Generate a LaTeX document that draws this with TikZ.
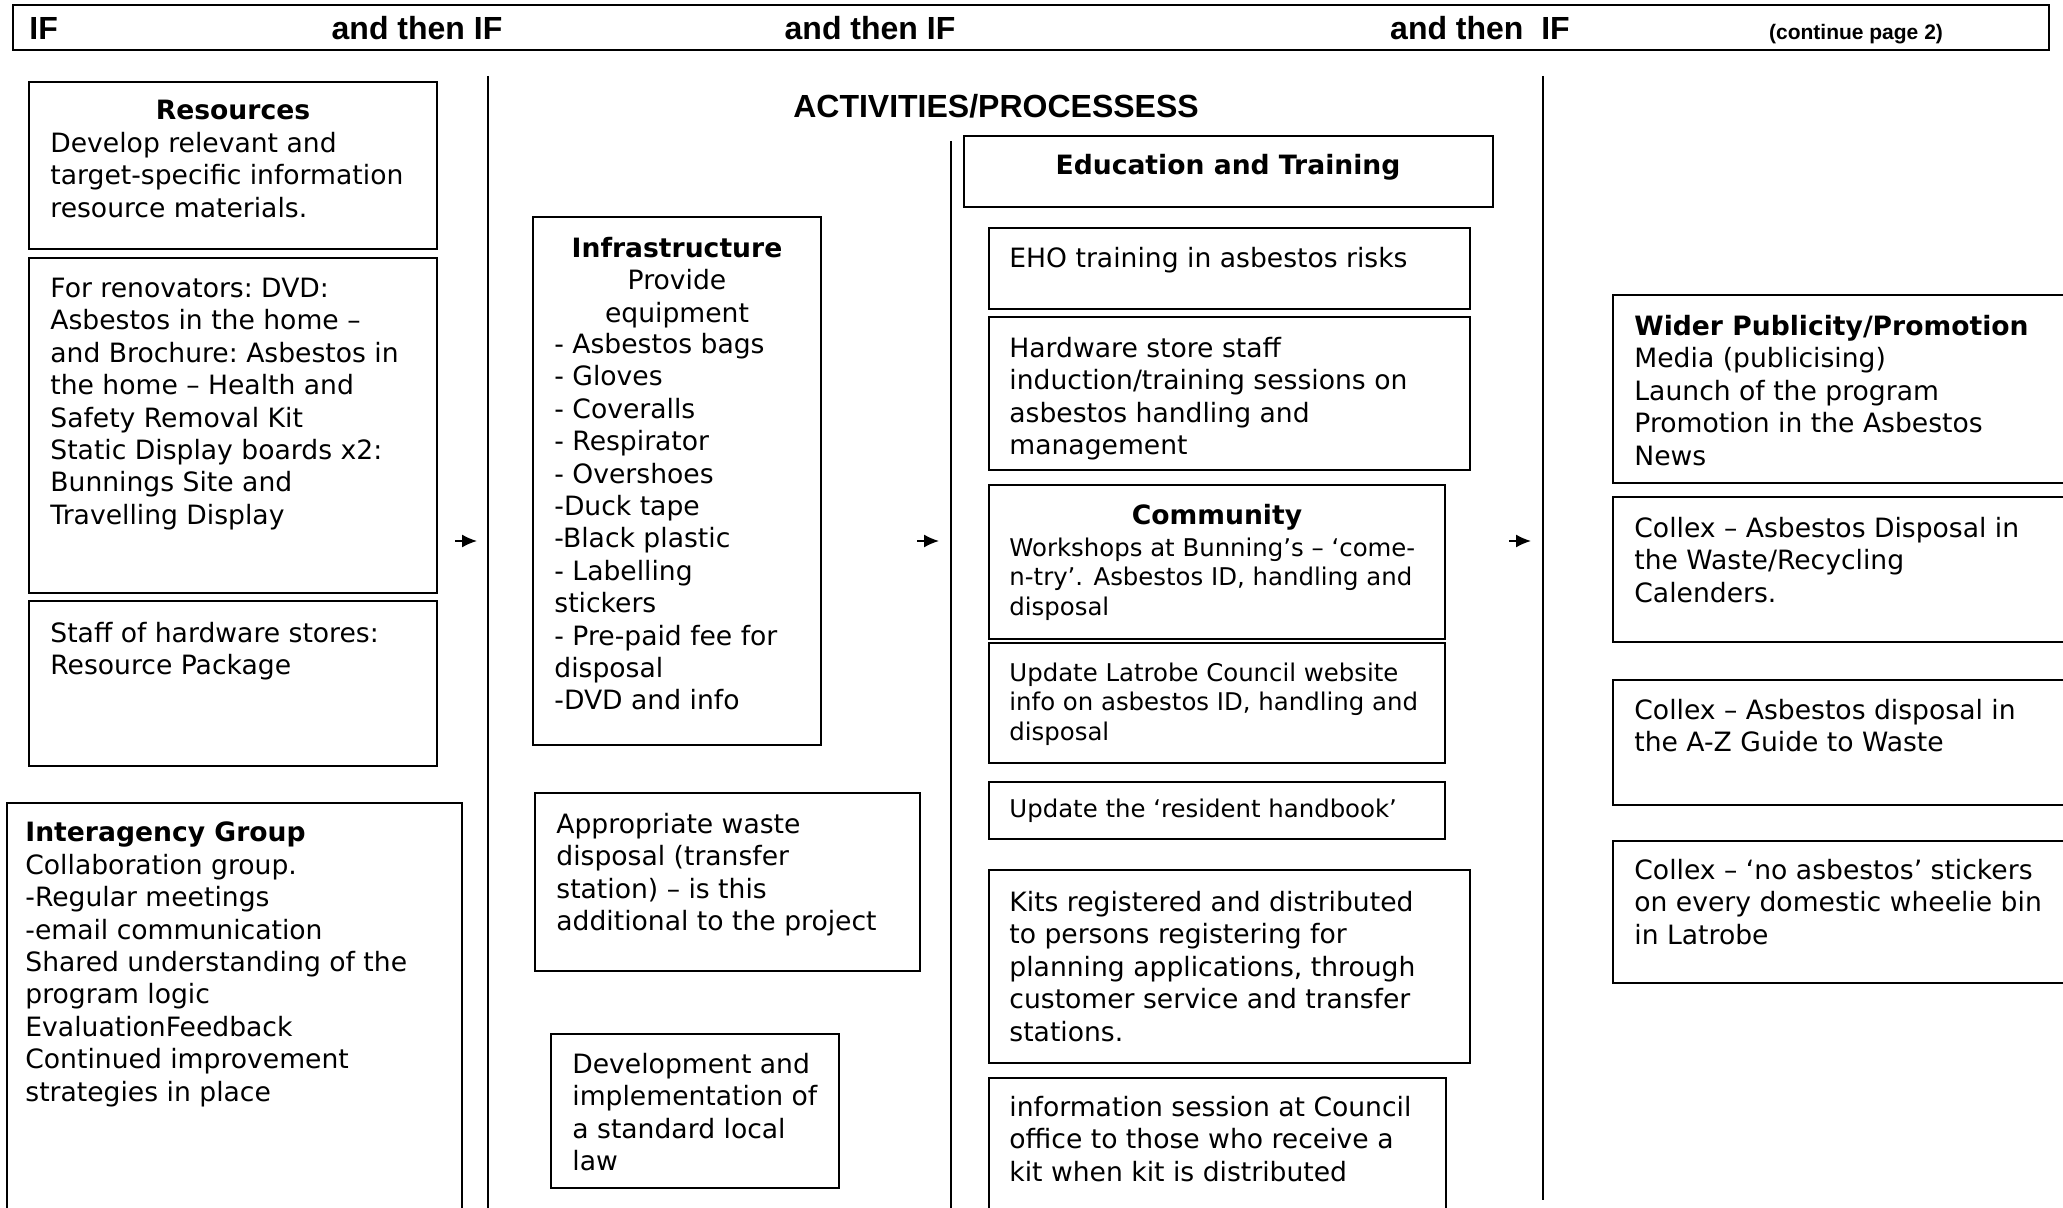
\documentclass[tikz,border=0pt]{standalone}
\usepackage{fontspec}
\usetikzlibrary{arrows.meta}
\newfontfamily\verd{DejaVu Sans}
\newfontfamily\arial{Liberation Sans}
\newcommand{\bodyfont}{\verd\fontsize{13.3}{16.2}\selectfont}
\newcommand{\smallbody}{\verd\fontsize{12.2}{14.6}\selectfont}
\newcommand{\hdfont}{\arial\bfseries\fontsize{16}{19}\selectfont}

\begin{document}
\begin{tikzpicture}[x=0.5pt, y=-0.5pt,
    boxline/.style={line width=0.75pt},
    txt/.style={anchor=north west, inner sep=0pt, align=left, font=\bodyfont, yshift=-1.4pt},
    smalltxt/.style={txt, font=\smallbody},
    ttl/.style={anchor=base, inner sep=0pt, font=\bodyfont\bfseries, yshift=-1.2pt},
    hdr/.style={anchor=base, inner sep=0pt, font=\hdfont, yshift=-0.7pt},
    flow/.style={-{Latex[length=7.5pt,width=6.5pt]}, line width=0.8pt}]
  \useasboundingbox (0,0) rectangle (2063,1208);
  \clip (0,0) rectangle (2063,1208);

  % 見出し
  \draw[line width=1.1pt] (13,5) rectangle (2049,50);
  \node[hdr, anchor=base west] (if0) at (29,38) {IF};
  \node[hdr] (if1) at (417,38) {and then IF};
  \node[hdr] (if2) at (870,38) {and then IF};
  \node[hdr] (if3) at (1480,38) {and then~~IF};
  \node[hdr, font=\arial\bfseries\fontsize{10.5}{12}\selectfont] (cont) at (1856,38) {(continue page 2)};

  \draw[line width=1pt] (488,76) -- (488,1208);
  \draw[line width=1pt] (951,141) -- (951,1208);
  \draw[line width=1pt] (1543,76) -- (1543,1200);

  % 左の列
  \draw[boxline] (29,82) rectangle (437,249);
  \node[ttl] (res-ttl) at (233,117) {Resources};
  \node[txt] (res-txt) at (50,129) {Develop relevant and\\target-specific information\\resource materials.};

  \draw[boxline] (29,258) rectangle (437,593);
  \node[txt] (reno-txt) at (50,275) {For renovators:\ DVD:\\Asbestos in the home –\\and Brochure:\ Asbestos in\\the home – Health and\\Safety Removal Kit\\Static Display boards x2:\\Bunnings Site and\\Travelling Display};

  \draw[boxline] (29,601) rectangle (437,766);
  \node[txt] (staff-txt) at (50,619) {Staff of hardware stores:\\Resource Package};

  \draw[boxline] (7,803) rectangle (462,1230);
  \node[txt] (inter-txt) at (25,819) {\textbf{Interagency Group}\\Collaboration group.\\-Regular meetings\\-email communication\\Shared understanding of the\\program logic\\EvaluationFeedback\\Continued improvement\\strategies in place};

  % 真ん中
  \node[hdr] (act) at (996,116) {ACTIVITIES/PROCESSESS};

  \draw[boxline] (533,217) rectangle (821,745);
  \node[txt, anchor=north, align=center] (infra-ttl) at (677,234) {\textbf{Infrastructure}\\Provide\\equipment};
  \node[txt] (infra-txt) at (554,330) {- Asbestos bags\\- Gloves\\- Coveralls\\- Respirator\\- Overshoes\\-Duck tape\\-Black plastic\\- Labelling\\stickers\\- Pre-paid fee for\\disposal\\-DVD and info};

  \draw[boxline] (535,793) rectangle (920,971);
  \node[txt] (waste-txt) at (556,810) {Appropriate waste\\disposal (transfer\\station) – is this\\additional to the project};

  \draw[boxline] (551,1034) rectangle (839,1188);
  \node[txt] (law-txt) at (572,1050) {Development and\\implementation of\\a standard local\\law};

  \draw[boxline] (964,136) rectangle (1493,207);
  \node[ttl] (edu-ttl) at (1228,172) {Education and Training};

  \draw[boxline] (989,228) rectangle (1470,309);
  \node[txt] (eho-txt) at (1009,244) {EHO training in asbestos risks};

  \draw[boxline] (989,317) rectangle (1470,470);
  \node[txt] (hw-txt) at (1009,334) {Hardware store staff\\induction/training sessions on\\asbestos handling and\\management};

  \draw[boxline] (989,485) rectangle (1445,639);
  \node[ttl] (com-ttl) at (1217,522) {Community};
  \node[smalltxt] (com-txt) at (1009,535) {Workshops at Bunning’s – ‘come-\\n-try’. Asbestos ID, handling and\\disposal};

  \draw[boxline] (989,643) rectangle (1445,763);
  \node[smalltxt] (web-txt) at (1009,660) {Update Latrobe Council website\\info on asbestos ID, handling and\\disposal};

  \draw[boxline] (989,782) rectangle (1445,839);
  \node[smalltxt] (book-txt) at (1009,796) {Update the ‘resident handbook’};

  \draw[boxline] (989,870) rectangle (1470,1063);
  \node[txt] (kits-txt) at (1009,888) {Kits registered and distributed\\to persons registering for\\planning applications, through\\customer service and transfer\\stations.};

  \draw[boxline] (989,1078) rectangle (1446,1230);
  \node[txt] (sess-txt) at (1009,1093) {information session at Council\\office to those who receive a\\kit when kit is distributed};

  % 右の列
  \draw[boxline] (1613,295) rectangle (2080,483);
  \node[txt] (pub-txt) at (1634,312) {\textbf{Wider Publicity/Promotion}\\Media (publicising)\\Launch of the program\\Promotion in the Asbestos\\News};

  \draw[boxline] (1613,497) rectangle (2080,642);
  \node[txt] (col1-txt) at (1634,514) {Collex – Asbestos Disposal in\\the Waste/Recycling\\Calenders.};

  \draw[boxline] (1613,680) rectangle (2080,805);
  \node[txt] (col2-txt) at (1634,696) {Collex – Asbestos disposal in\\the A-Z Guide to Waste};

  \draw[boxline] (1613,841) rectangle (2080,983);
  \node[txt] (col3-txt) at (1634,856) {Collex – ‘no asbestos’ stickers\\on every domestic wheelie bin\\in Latrobe};

  % 矢印
  \foreach \x [count=\i] in {455,917,1509} {
    \coordinate (arr\i-s) at (\x,541);
    \coordinate (arr\i-e) at (\x+22,541);
    \draw[flow] (arr\i-s) -- (arr\i-e);
  }
\end{tikzpicture}
\end{document}
